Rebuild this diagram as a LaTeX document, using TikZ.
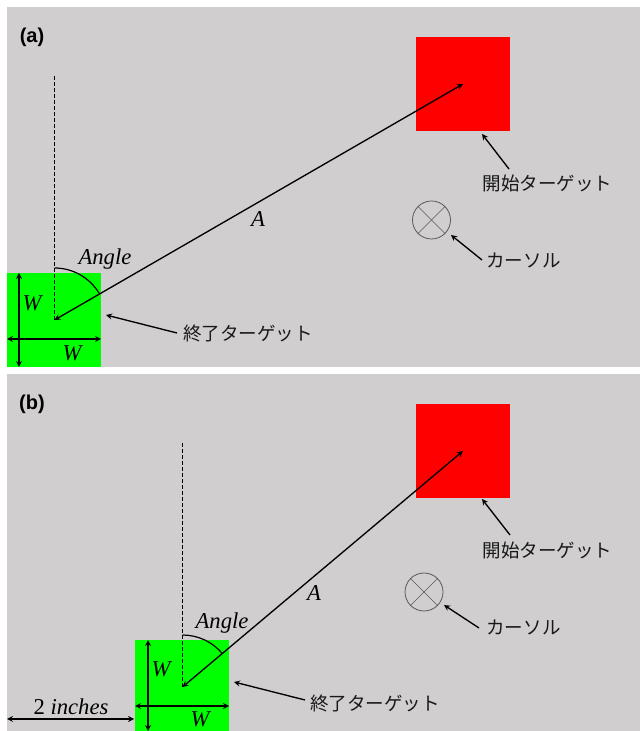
\documentclass[tikz,border=0pt]{standalone}
\usepackage{fontspec}
\newfontfamily\cjk{Noto Sans CJK JP}
\newfontfamily\labelfont{Liberation Sans}
\newfontfamily\varfont{Liberation Serif}
\usetikzlibrary{arrows, calc}
\definecolor{panelgray}{HTML}{D0CECE}
\tikzstyle{panel} = [rectangle, draw=none, fill=panelgray, inner sep=0pt, minimum width=474.75pt]
\tikzstyle{starttarget} = [rectangle, fill=red, inner sep=0pt, minimum width=70.5pt, minimum height=70.5pt]
\tikzstyle{endtarget} = [rectangle, fill=green, inner sep=0pt, minimum width=70.5pt, minimum height=70.5pt]
\tikzstyle{cursor} = [circle, draw=black!65, line width=0.6pt, inner sep=0pt, minimum size=28.5pt]
\tikzstyle{crossline} = [draw=black!65, line width=0.5pt]
\tikzstyle{jlabel} = [font=\cjk\fontsize{13.9}{16}\selectfont, text=black!90, inner sep=0pt]
\tikzstyle{varlabel} = [font=\varfont\itshape\fontsize{17}{20}\selectfont, inner sep=0pt]
\tikzstyle{panellabel} = [font=\labelfont\bfseries\fontsize{15}{18}\selectfont, inner sep=0pt]
\tikzstyle{arrow} = [->,>=stealth, line width=1pt]
\tikzstyle{dimarrow} = [<->,>=stealth, line width=1pt]
\tikzstyle{guide} = [line width=1.1pt, dash pattern=on 3pt off 1.5pt]
\begin{document}
\begin{tikzpicture}[x=0.75pt, y=0.75pt]
    \useasboundingbox (0,0) rectangle (640,731);
    % panel (a)
    \node (panela) [panel, minimum height=270pt] at (323.5,544) {};
    \node (plabela) [panellabel] at (32,694) {(a)};
    \node (starta) [starttarget] at (463,647) {};
    \node (enda) [endtarget] at (54,411) {};
    \coordinate (centera) at (54.5,411);
    \coordinate (topa) at (54.5,655);
    \draw [guide] (topa) -- (centera);
    \draw [dimarrow] (centera) -- (starta.center);
    \draw [line width=0.9pt] ($(centera)+(90:52)$) arc (90:31:52);
    \coordinate (wtopa) at (19,458);
    \coordinate (wbota) at (19,364);
    \coordinate (wlefta) at (7,392);
    \coordinate (wrighta) at (101,392);
    \draw [dimarrow] (wtopa) -- (wbota);
    \draw [dimarrow] (wlefta) -- (wrighta);
    \node (wa1) [varlabel] at (32,428) {W};
    \node (wa2) [varlabel] at (72,378) {W};
    \node (anglea) [varlabel] at (105,472) {Angle};
    \node (lena) [varlabel] at (258,512) {A};
    \node (cursora) [cursor] at (431.5,511) {};
    \draw [crossline] (cursora.45) -- (cursora.225);
    \draw [crossline] (cursora.135) -- (cursora.315);
    \node (lstarta) [jlabel] at (547.5,548) {開始ターゲット};
    \node (lcursora) [jlabel] at (523.5,471) {カーソル};
    \node (lenda) [jlabel] at (248,397) {終了ターゲット};
    \coordinate (tipstarta) at (482,597);
    \coordinate (tailstarta) at (509,562);
    \coordinate (tipcursora) at (451,496);
    \coordinate (tailcursora) at (482,471);
    \coordinate (tipenda) at (106,416);
    \coordinate (tailenda) at (177,398);
    \draw [arrow] (tailstarta) -- (tipstarta);
    \draw [arrow] (tailcursora) -- (tipcursora);
    \draw [arrow] (tailenda) -- (tipenda);
    % panel (b)
    \node (panelb) [panel, minimum height=267.75pt] at (323.5,178.5) {};
    \node (plabelb) [panellabel] at (32,327) {(b)};
    \node (startb) [starttarget] at (463,280) {};
    \node (endb) [endtarget, minimum height=68.25pt] at (182,45.5) {};
    \coordinate (centerb) at (182.5,44);
    \coordinate (topb) at (182.5,288);
    \draw [guide] (topb) -- (centerb);
    \draw [dimarrow] (centerb) -- (startb.center);
    \draw [line width=0.9pt] ($(centerb)+(90:52)$) arc (90:40:52);
    \coordinate (wtopb) at (148,91);
    \coordinate (wbotb) at (148,0);
    \coordinate (wleftb) at (135,25);
    \coordinate (wrightb) at (229,25);
    \coordinate (margin) at (7,12);
    \coordinate (marginend) at (134,12);
    \draw [dimarrow] (wtopb) -- (wbotb);
    \draw [dimarrow] (wleftb) -- (wrightb);
    \draw [dimarrow] (margin) -- (marginend);
    \node (wb1) [varlabel] at (161,62) {W};
    \node (wb2) [varlabel] at (200,12) {W};
    \node (inches) [varlabel] at (71,24) {{\upshape 2} inches};
    \node (angleb) [varlabel] at (222,108) {Angle};
    \node (lenb) [varlabel] at (314,138) {A};
    \node (cursorb) [cursor] at (424,139) {};
    \draw [crossline] (cursorb.45) -- (cursorb.225);
    \draw [crossline] (cursorb.135) -- (cursorb.315);
    \node (lstartb) [jlabel] at (547.5,181) {開始ターゲット};
    \node (lcursorb) [jlabel] at (523.5,104) {カーソル};
    \node (lendb) [jlabel] at (375,27) {終了ターゲット};
    \coordinate (tipstartb) at (482,232);
    \coordinate (tailstartb) at (510,196);
    \coordinate (tipcursorb) at (444,126);
    \coordinate (tailcursorb) at (479,103);
    \coordinate (tipendb) at (234,49);
    \coordinate (tailendb) at (305,31);
    \draw [arrow] (tailstartb) -- (tipstartb);
    \draw [arrow] (tailcursorb) -- (tipcursorb);
    \draw [arrow] (tailendb) -- (tipendb);
\end{tikzpicture}
\end{document}
